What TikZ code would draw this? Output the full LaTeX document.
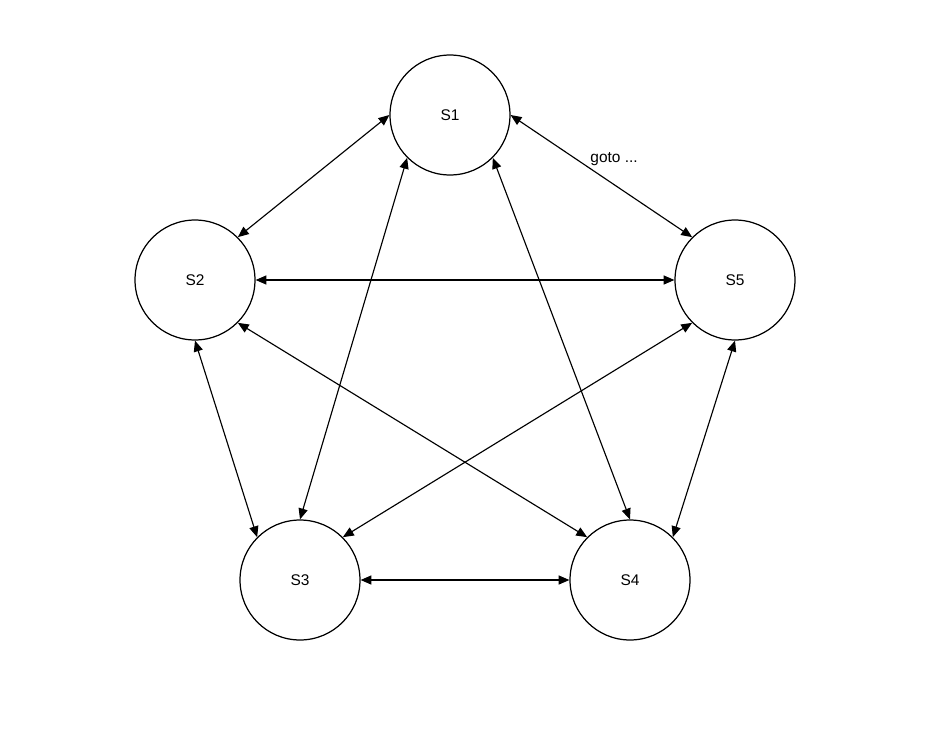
\documentclass[tikz,border=0pt]{standalone}
\usepackage{fontspec}
\setmainfont{Liberation Sans}
\usepackage{tikz}
\usetikzlibrary{arrows.meta, positioning}

\begin{document}
\begin{tikzpicture}[
    x=0.02cm, y=-0.02cm,
    every node/.style={align=center, font=\fontsize{8.8}{10}\selectfont},
    state/.style={draw, circle, line width=0.7pt, minimum size=2.4cm, inner sep=0pt},
    link/.style={line width=0.65pt, {Triangle[length=6.2pt, width=5.2pt]}-{Triangle[length=6.2pt, width=5.2pt]}}
]
    \useasboundingbox (0,0) rectangle (927,734);

    % States
    \node[state] (s1) at (450,115) {S1};
    \node[state] (s2) at (195,280) {S2};
    \node[state] (s5) at (735,280) {S5};
    \node[state] (s3) at (300,580) {S3};
    \node[state] (s4) at (630,580) {S4};

    % Outer ring
    \draw[link] (s1.west) -- (s2.45);
    \draw[link] (s1.east) -- node[pos=0.57, above=0.24cm] (gotolbl) {goto ...} (s5.135);
    \draw[link] (s2.south) -- (s3.135);
    \draw[link] (s5.south) -- (s4.45);
    \draw[link] (s3.east) -- (s4.west);

    % Inner star
    \draw[link] (s2.east) -- (s5.west);
    \draw[link] (s1.225) -- (s3.north);
    \draw[link] (s1.315) -- (s4.north);
    \draw[link] (s2.315) -- (s4.135);
    \draw[link] (s5.225) -- (s3.45);
\end{tikzpicture}
\end{document}
